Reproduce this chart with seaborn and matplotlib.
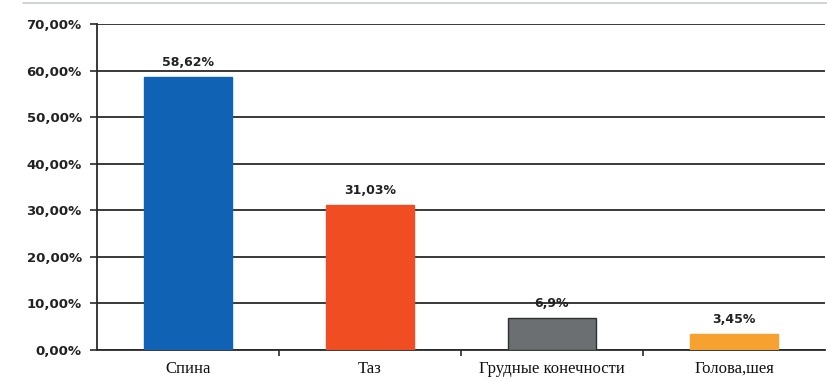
import matplotlib
matplotlib.use("Agg")
import matplotlib.pyplot as plt
from matplotlib.lines import Line2D
from matplotlib.ticker import FuncFormatter, FixedLocator
import seaborn as sns
import pandas as pd

categories = ["Спина", "Таз", "Грудные конечности", "Голова,шея"]
shares = [58.62, 31.03, 6.9, 3.45]
value_labels = ["58,62%", "31,03%", "6,9%", "3,45%"]
bar_colors = ["#0F62B4", "#F04E22", "#6B6F71", "#F7A230"]
edge_colors = ["#0F62B4", "#F04E22", "#2E3032", "#F7A230"]

df = pd.DataFrame({"category": categories, "share": shares})

sns.set_theme(style="white")
plt.rcParams["font.family"] = ["DejaVu Sans"]

fig = plt.figure(figsize=(8.28, 3.82), dpi=100)
ax = fig.add_axes([97 / 828, 1 - 350 / 382, (825 - 97) / 828, (350 - 24) / 382])

sns.barplot(data=df, x="category", y="share", hue="category",
            palette=bar_colors, saturation=1, width=0.48, legend=False, ax=ax, zorder=3)
for patch, ec in zip(ax.patches, edge_colors):
    patch.set_edgecolor(ec)
    patch.set_linewidth(1.0)

ax.set_ylim(0, 70)
ax.set_xlim(-0.5, 3.5)
ax.set_yticks(range(0, 71, 10))
ax.yaxis.set_major_formatter(FuncFormatter(lambda v, _: f"{v:.2f}".replace(".", ",") + "%"))
ax.grid(axis="y", color="#2a2a2a", linewidth=1.3, zorder=0)
ax.set_axisbelow(True)
ax.set_xlabel("")
ax.set_ylabel("")

for side in ("top", "right"):
    ax.spines[side].set_visible(False)
for side in ("left", "bottom"):
    ax.spines[side].set_color("#2a2a2a")
    ax.spines[side].set_linewidth(1.3)

ax.tick_params(axis="y", which="major", direction="out", length=5, width=1.2,
               color="#2a2a2a", left=True, labelsize=9.5, pad=6)
for lbl in ax.get_yticklabels():
    lbl.set_fontweight("bold")
    lbl.set_color("#222222")

# category labels in serif, separator ticks between categories
ax.tick_params(axis="x", which="major", length=0, pad=8)
ax.set_xticks(range(len(categories)))
ax.set_xticklabels(categories, family=["Liberation Serif"], fontsize=12, color="#111111")
ax.xaxis.set_minor_locator(FixedLocator([0.5, 1.5, 2.5]))
ax.tick_params(axis="x", which="minor", direction="out", length=4, width=1.2,
               color="#2a2a2a", bottom=True)

for patch, text in zip(ax.patches, value_labels):
    x = patch.get_x() + patch.get_width() / 2
    ax.annotate(text, (x, patch.get_height()), xytext=(0, 6), textcoords="offset points",
                ha="center", va="bottom", fontsize=9, fontweight="bold", color="#222222",
                zorder=5)

fig.add_artist(Line2D([23 / 828, 1.0], [1 - 3 / 382, 1 - 3 / 382],
                      color="#c8ccd0", linewidth=1.2, transform=fig.transFigure))

fig.savefig("out.png", dpi=100, facecolor="white")
